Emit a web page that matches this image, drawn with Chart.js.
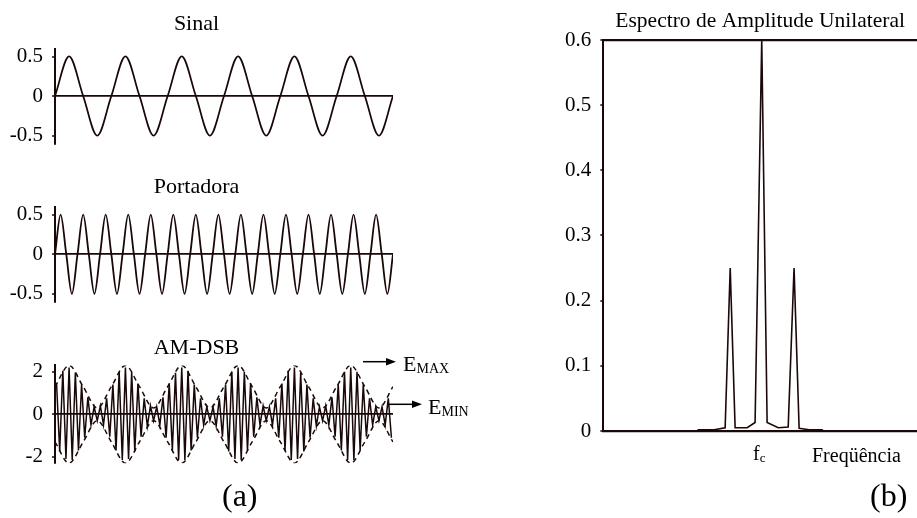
<!DOCTYPE html>
<html><head><meta charset="utf-8">
<script src="https://cdn.jsdelivr.net/npm/chart.js@4.4.1/dist/chart.umd.min.js"></script>
<style>
html,body{margin:0;padding:0;background:#fff;}
body{width:917px;height:518px;position:relative;overflow:hidden;font-family:"Liberation Serif","Times New Roman",serif;color:#000;}
canvas{position:absolute;}
.t{position:absolute;white-space:nowrap;line-height:1;}
.s{position:relative;top:2px;}
</style></head><body>
<canvas id="cA" width="436" height="150" style="left:0;top:0"></canvas>
<canvas id="cB" width="440" height="150" style="left:0;top:160px"></canvas>
<canvas id="cC" width="450" height="150" style="left:0;top:320px"></canvas>
<canvas id="cD" width="377" height="445" style="left:540px;top:0"></canvas>

<svg width="917" height="518" style="position:absolute;left:0;top:0;pointer-events:none">
  <line x1="363" y1="361.7" x2="389" y2="361.7" stroke="#000" stroke-width="1.5"/>
  <polygon points="396,361.7 386,358 386,365.4" fill="#000"/>
  <line x1="388" y1="404.3" x2="415" y2="404.3" stroke="#000" stroke-width="1.5"/>
  <polygon points="422,404.3 412,400.6 412,408" fill="#000"/>
</svg>
<div class="t" style="left:403px;top:353px;font-size:22px">E<span class="s" style="font-size:14px">MAX</span></div>
<div class="t" style="left:428px;top:396px;font-size:22px">E<span class="s" style="font-size:14px">MIN</span></div>
<div class="t" style="left:753px;top:443px;font-size:20px">f<span class="s" style="font-size:13px">c</span></div>
<div class="t" style="left:812px;top:445px;font-size:20px">Freqüência</div>
<div class="t" style="left:222px;top:479px;font-size:32px">(a)</div>
<div class="t" style="left:870px;top:479px;font-size:32px">(b)</div>

<script>
// ---- data ----
const sinalValues = [0,0.5,0,-0.5, 0,0.5,0,-0.5, 0,0.5,0,-0.5, 0,0.5,0,-0.5, 0,0.5,0,-0.5, 0,0.5,0,-0.5, 0];
const portadoraValues = [
  0,0.5,0,-0.5, 0,0.5,0,-0.5, 0,0.5,0,-0.5, 0,0.5,0,-0.5, 0,0.5,0,-0.5,
  0,0.5,0,-0.5, 0,0.5,0,-0.5, 0,0.5,0,-0.5, 0,0.5,0,-0.5, 0,0.5,0,-0.5,
  0,0.5,0,-0.5, 0,0.5,0,-0.5, 0,0.5,0,-0.5, 0,0.5,0,-0.5, 0,0.5,0,-0.5, 0];
const amDsbValues = [
  1.45,-1.75,2.05,-2.1,2.2,-2.15,1.95,-1.7,1.4,-1.1,0.8,-0.5,0.35,-0.3,0.4,-0.5,0.75,-1.05,
  1.4,-1.7,2.0,-2.15,2.2,-2.1,2.0,-1.75,1.45,-1.05,0.75,-0.55,0.4,-0.3,0.35,-0.5,0.8,-1.1,
  1.45,-1.7,1.95,-2.15,2.2,-2.15,2.05,-1.7,1.4,-1.1,0.75,-0.5,0.35,-0.3,0.35,-0.55,0.75,-1.05,
  1.4,-1.75,2.0,-2.1,2.2,-2.15,2.0,-1.7,1.45,-1.05,0.8,-0.5,0.4,-0.3,0.35,-0.5,0.75,-1.1,
  1.45,-1.7,2.05,-2.15,2.2,-2.1,1.95,-1.75,1.4,-1.1,0.75,-0.55,0.35,-0.3,0.4,-0.5,0.8,-1.05,
  1.4,-1.7,2.0,-2.15,2.2,-2.15,2.0,-1.7,1.4,-1.05,0.75,-0.5,0.35,-0.3,0.35,-0.5,0.75,-1.1];
const envUpper = [1.3,2.3,1.3,0.3, 1.3,2.3,1.3,0.3, 1.3,2.3,1.3,0.3, 1.3,2.3,1.3,0.3, 1.3,2.3,1.3,0.3, 1.3,2.3,1.3,0.3, 1.3];
const envLower = [-1.3,-2.3,-1.3,-0.3, -1.3,-2.3,-1.3,-0.3, -1.3,-2.3,-1.3,-0.3, -1.3,-2.3,-1.3,-0.3, -1.3,-2.3,-1.3,-0.3, -1.3,-2.3,-1.3,-0.3, -1.3];
const smallTicks = [-0.5, 0, 0.5];
const amTicks = [-2, 0, 2];
const specFreq = [0, 590, 600, 700, 769, 801, 832, 908, 958, 1000, 1034, 1104, 1167, 1204, 1236, 1300, 1381, 1390, 1980];
const specAmp  = [0, 0, 0.002, 0.002, 0.005, 0.25, 0.005, 0.005, 0.013, 0.6, 0.013, 0.005, 0.006, 0.25, 0.004, 0.002, 0.002, 0, 0];
const specTicks = [0, 0.1, 0.2, 0.3, 0.4, 0.5, 0.6];
const modPeriods = 6;

// ---- styling ----
const INK = '#1a0808';
const FONT = '"Liberation Serif","Times New Roman",serif';

function series(vals, step, offset){
  return vals.map((v,i)=>({x:(i+offset)*step, y:v}));
}

function timeChart(id, datasets, yMin, yMax, yTicks, title, titlePad, padR, padB){
  return new Chart(document.getElementById(id), {
    type:'line',
    data:{datasets},
    options:{
      responsive:false, animation:false, events:[],
      layout:{padding:{left:0,right:padR,top:0,bottom:padB}},
      plugins:{legend:{display:false}, tooltip:{enabled:false},
        title:{display:true,text:title,color:'#000',font:{family:FONT,size:22,weight:'normal'},padding:titlePad}},
      elements:{point:{radius:0}},
      scales:{
        x:{type:'linear',min:0,max:modPeriods,display:false},
        y:{min:yMin,max:yMax,
          afterBuildTicks:s=>{s.ticks=yTicks.map(v=>({value:v}));},
          afterFit:s=>{s.width=55;s.paddingTop=0;s.paddingBottom=0;},
          border:{display:true,color:INK,width:2},
          grid:{drawOnChartArea:true,drawTicks:true,tickLength:3,tickColor:INK,tickWidth:1.5,
            color:c=>(c.tick&&c.tick.value===0)?INK:'rgba(0,0,0,0)', lineWidth:1.8},
          ticks:{color:'#000',font:{family:FONT,size:21},padding:9}
        }
      }
    }
  });
}

timeChart('cA', [
  {data:series(sinalValues, modPeriods/(sinalValues.length-1), 0), borderColor:INK, borderWidth:1.8, cubicInterpolationMode:'monotone'}
], -0.6, 0.6, smallTicks, 'Sinal', {top:10.8,bottom:11.3}, 43, 6.5);

timeChart('cB', [
  {data:series(portadoraValues, modPeriods/(portadoraValues.length-1), 0), borderColor:INK, borderWidth:1.8, cubicInterpolationMode:'monotone'}
], -0.6, 0.6, smallTicks, 'Portadora', {top:14.3,bottom:6.0}, 47, 8.3);

timeChart('cC', [
  {data:series(envUpper, modPeriods/(envUpper.length-1), 0), borderColor:INK, borderWidth:1.5, borderDash:[5,4], cubicInterpolationMode:'monotone'},
  {data:series(envLower, modPeriods/(envLower.length-1), 0), borderColor:INK, borderWidth:1.5, borderDash:[5,4], cubicInterpolationMode:'monotone'},
  {data:series(amDsbValues, modPeriods/amDsbValues.length, 0.5), borderColor:INK, borderWidth:1.5, tension:0}
], -2.3, 2.3, amTicks, 'AM-DSB', {top:15.1,bottom:3.9}, 57, 6.8);

new Chart(document.getElementById('cD'), {
  type:'line',
  data:{datasets:[{data:specFreq.map((f,i)=>({x:f,y:specAmp[i]})), borderColor:INK, borderWidth:1.6, tension:0, pointRadius:0}]},
  options:{
    responsive:false, animation:false, events:[],
    layout:{padding:{left:0,right:0,top:0,bottom:14}},
    plugins:{legend:{display:false}, tooltip:{enabled:false},
      title:{display:true,fullSize:false,text:'Espectro de Amplitude Unilateral',color:'#000',
        font:{family:FONT,size:21.5,weight:'normal'},padding:{top:8.8,bottom:5.4}}},
    scales:{
      x:{type:'linear',min:0,max:1980,display:false},
      y:{min:0,max:0.6,
        afterBuildTicks:s=>{s.ticks=specTicks.map(v=>({value:v}));},
        afterFit:s=>{s.width=63.3;s.paddingTop=0;s.paddingBottom=0;},
        border:{display:true,color:INK,width:2},
        grid:{drawOnChartArea:true,drawTicks:true,tickLength:3,tickColor:INK,tickWidth:1.5,
          color:c=>(c.tick&&(c.tick.value===0||c.tick.value===0.6))?INK:'rgba(0,0,0,0)', lineWidth:2.2},
        ticks:{color:'#000',font:{family:FONT,size:21},padding:9}
      }
    }
  }
});
</script>
</body></html>
